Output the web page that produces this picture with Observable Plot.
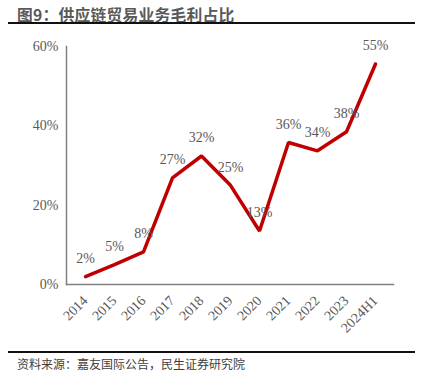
<!DOCTYPE html>
<html><head><meta charset="utf-8">
<script src="https://cdn.jsdelivr.net/npm/d3@7"></script>
<script src="https://cdn.jsdelivr.net/npm/@observablehq/plot@0.6"></script>
<style>
body{margin:0;background:#fff;width:429px;height:386px;position:relative;overflow:hidden}
#title{position:absolute;left:17px;top:3px;font:bold 15.8px "Noto Sans CJK SC",sans-serif;color:#595959;letter-spacing:0.2px}
#topline{position:absolute;left:8px;top:22px;width:407px;height:2px;background:#111}
#botline{position:absolute;left:8px;top:351px;width:407px;height:2px;background:#111}
#src{position:absolute;left:17px;top:355px;font:12px "Noto Sans CJK SC",sans-serif;color:#404040}
#chart{position:absolute;left:0;top:30px}
</style></head><body>
<div id="title">图9：供应链贸易业务毛利占比</div>
<div id="topline"></div>
<div id="chart"></div>
<div id="botline"></div>
<div id="src">资料来源：嘉友国际公告，民生证券研究院</div>
<script>
const categories = ["2014","2015","2016","2017","2018","2019","2020","2021","2022","2023","2024H1"];
const values = [0.020, 0.050, 0.082, 0.269, 0.324, 0.250, 0.135, 0.358, 0.337, 0.385, 0.556];
const labels = ["2%","5%","8%","27%","32%","25%","13%","36%","34%","38%","55%"];
const yTicks = [0, 0.2, 0.4, 0.6];

const data = categories.map((c,i)=>({cat:c, v:values[i], label:labels[i]}));
const serif = "'Liberation Serif','Times New Roman',serif";
const grey = "#595959";

const chart = Plot.plot({
  width: 429,
  height: 320,
  marginTop: 16,
  marginBottom: 66,
  marginLeft: 66,
  marginRight: 36,
  style: {fontFamily: serif, background: "transparent", overflow: "visible"},
  x: {type: "point", domain: categories, padding: 0.5, axis: null},
  y: {domain: [0, 0.6], axis: null},
  marks: [
    Plot.frame({anchor: "left", stroke: "#808080", strokeWidth: 1.5}),
    Plot.frame({anchor: "bottom", stroke: "#808080", strokeWidth: 1.5}),
    Plot.text(yTicks, {y: d=>d, text: d=>Math.round(d*100)+"%", frameAnchor: "left", textAnchor: "end", dx: -8, fill: grey, fontSize: 14}),
    Plot.text(categories, {x: d=>d, text: d=>d, frameAnchor: "bottom", rotate: -45, textAnchor: "end", dy: 17, dx: 3, fill: grey, fontSize: 14}),
    Plot.line(data, {x: "cat", y: "v", stroke: "#C00000", strokeWidth: 3.5, strokeLinejoin: "miter", strokeLinecap: "round"}),
    Plot.text(data, {x: "cat", y: "v", text: "label", dy: -18, fill: grey, fontSize: 14})
  ]
});
document.getElementById("chart").appendChild(chart);
</script>
</body></html>
